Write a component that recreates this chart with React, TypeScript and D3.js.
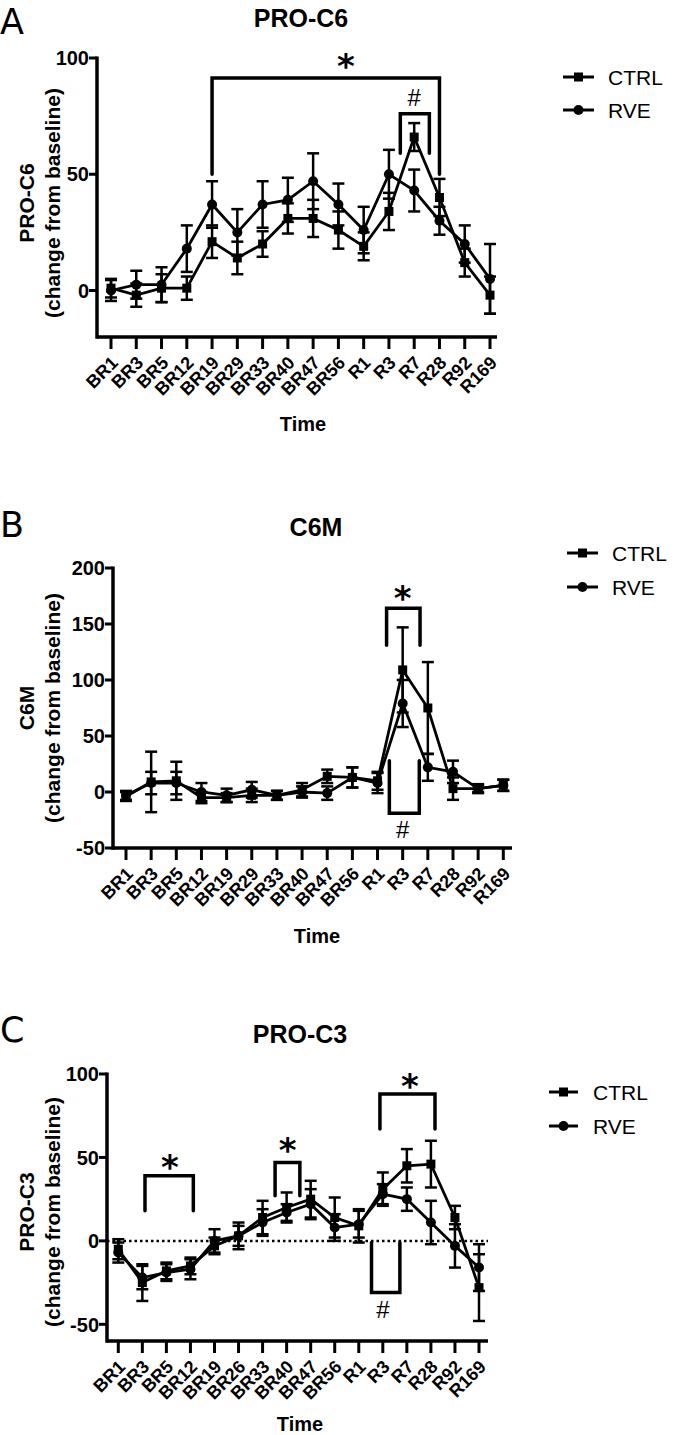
import React from 'react';
import * as d3 from 'd3';

// ---------- DATA ----------
const catsA = ['BR1', 'BR3', 'BR5', 'BR12', 'BR19', 'BR29', 'BR33', 'BR40', 'BR47', 'BR56', 'R1', 'R3', 'R7', 'R28', 'R92', 'R169'];
const ctrlA = [1, -2, 1, 1, 21, 14, 20, 31, 31, 26, 19, 34, 66, 40, 12, -2];
const ctrlAErr = [4, 5, 6, 5, 7, 7, 5.5, 6.5, 8, 8, 6, 8, 6, 8, 6, 8];
const rveA = [0, 2.5, 2.5, 18, 37, 25, 37, 39, 47, 37, 26, 50, 43, 30, 20, 5];
const rveAErr = [4.5, 6, 7.5, 10, 10, 10, 10, 9.5, 12, 9, 10, 10.5, 9, 6, 8, 15];
const ticksA = [0, 50, 100];

const catsB = ['BR1', 'BR3', 'BR5', 'BR12', 'BR19', 'BR29', 'BR33', 'BR40', 'BR47', 'BR56', 'R1', 'R3', 'R7', 'R28', 'R92', 'R169'];
const ctrlB = [-4, 9, 10, -5, -5, -3, -3, 2, 14, 13, 10, 109, 75, 3, 3, 6];
const ctrlBErr = [4, 27, 17, 5, 4, 6, 4, 6, 6, 9, 8, 38, 41, 10, 3, 5];
const rveB = [-3, 8, 8, 0, -3, 2, -3, 0, -1, 13, 8, 79, 22, 18, 3, 6];
const rveBErr = [4, 10, 10, 8, 6, 7, 4, 5, 6, 9, 9, 21, 12, 10, 4, 5];
const ticksB = [-50, 0, 50, 100, 150, 200];

const catsC = ['BR1', 'BR3', 'BR5', 'BR12', 'BR19', 'BR26', 'BR33', 'BR40', 'BR47', 'BR56', 'R1', 'R3', 'R7', 'R28', 'R92', 'R169'];
const ctrlC = [-5, -25, -18, -15, -3, 3, 14, 20, 25, 14, 9, 31, 45, 46, 14, -28];
const ctrlCErr = [6, 11, 5, 5, 5, 8, 10, 9, 11, 12, 10, 10, 10, 14, 7, 20];
const rveC = [-7, -22, -19, -17, 0, 3, 11, 17, 22, 8, 10, 28, 25, 11, -3, -16];
const rveCErr = [6, 7, 5, 6, 7, 6, 8, 5, 9, 8, 8, 6, 7, 13, 13, 14];
const ticksC = [-50, 0, 50, 100];

const seriesNames = ['CTRL', 'RVE'];

// significance brackets: fractional category index from/to, bar value, leg end value
const bracketsA = [
  { i1: 4, i2: 13, bar: 91.4, leg: 50 },
  { i1: 11.45, i2: 12.6, bar: 76, leg: 59 },
];
const marksA = [
  { t: '*', i: 9.3, v: 98.9 },
  { t: '#', i: 12, v: 82.8 },
];
const bracketsB = [
  { i1: 10.36, i2: 11.69, bar: 164, leg: 131 },
  { i1: 10.47, i2: 11.66, bar: -19, leg: 28 },
];
const marksB = [
  { t: '*', i: 11, v: 177.7 },
  { t: '#', i: 11.0, v: -34 },
];
const bracketsC = [
  { i1: 1.11, i2: 3.12, bar: 39, leg: 18 },
  { i1: 6.52, i2: 7.55, bar: 47, leg: 27 },
  { i1: 10.88, i2: 13.17, bar: 88, leg: 67 },
  { i1: 10.53, i2: 11.71, bar: -31, leg: -1 },
];
const marksC = [
  { t: '*', i: 2.15, v: 47.6 },
  { t: '*', i: 7.04, v: 57.6 },
  { t: '*', i: 12.13, v: 96.4 },
  { t: '#', i: 11.0, v: -41.3 },
];

const FONT = "'Liberation Sans', Arial, Helvetica, sans-serif";

type PanelProps = {
  cats: string[];
  ctrl: number[]; ctrlErr: number[];
  rve: number[]; rveErr: number[];
  yDomain: [number, number]; yTicks: number[];
  xRange: [number, number]; yRange: [number, number];
  axisX: number; xAxisEnd: number; zeroLine?: boolean;
  brackets: { i1: number; i2: number; bar: number; leg: number }[];
  marks: { t: string; i: number; v: number }[];
  letter: string; letterY: number;
  title: string; titleX: number; titleY: number;
  yLabel: string; yLabelY: number;
  timeX: number; timeY: number;
  legend: { x1: number; x2: number; y1: number; y2: number; tx: number };
};

function Square({ x, y, s = 9 }: { x: number; y: number; s?: number }) {
  return <rect x={x - s / 2} y={y - s / 2} width={s} height={s} fill="#000" />;
}
function Dot({ x, y, r = 5 }: { x: number; y: number; r?: number }) {
  return <circle cx={x} cy={y} r={r} fill="#000" />;
}

function Panel(p: PanelProps) {
  const x = d3.scalePoint<string>().domain(p.cats).range(p.xRange);
  const y = d3.scaleLinear().domain(p.yDomain).range(p.yRange);
  const step = x.step();
  const xi = (i: number) => (x(p.cats[0]) as number) + i * step;
  const line = d3.line<number>().x((_, i) => x(p.cats[i]) as number).y((d) => y(d));
  const yBottom = p.yRange[0];
  const yTop = p.yRange[1];
  const capW = 6;

  const errBars = (vals: number[], errs: number[], key: string) =>
    vals.map((v, i) => {
      const cx = x(p.cats[i]) as number;
      const y1 = y(v + errs[i]);
      const y2 = y(v - errs[i]);
      return (
        <g key={key + i} stroke="#000" strokeWidth={2.5}>
          <line x1={cx} x2={cx} y1={y1} y2={y2} />
          <line x1={cx - capW} x2={cx + capW} y1={y1} y2={y1} />
          <line x1={cx - capW} x2={cx + capW} y1={y2} y2={y2} />
        </g>
      );
    });

  return (
    <g fontFamily={FONT}>
      {/* panel letter */}
      <text x={0} y={p.letterY} fontSize={35} fontFamily="'DejaVu Sans', 'Open Sans', sans-serif" fill="#000">{p.letter}</text>
      {/* title */}
      <text x={p.titleX} y={p.titleY} fontSize={25} fontWeight="bold" textAnchor="middle">{p.title}</text>
      {/* y labels */}
      <text transform={`translate(27,${p.yLabelY}) rotate(-90)`} fontSize={21} fontWeight="bold" textAnchor="middle" dy="0.35em">{p.yLabel}</text>
      <text transform={`translate(53,${p.yLabelY}) rotate(-90)`} fontSize={21} fontWeight="bold" textAnchor="middle" dy="0.35em">(change from baseline)</text>

      {/* zero line */}
      {p.zeroLine && (
        <line x1={p.axisX} x2={p.xAxisEnd} y1={y(0)} y2={y(0)} stroke="#000" strokeWidth={2.5} strokeDasharray="2.5,3" />
      )}

      {/* axes */}
      <line x1={p.axisX} x2={p.axisX} y1={yTop - 1.5} y2={yBottom + 1.75} stroke="#000" strokeWidth={3.5} />
      <line x1={p.axisX} x2={p.xAxisEnd} y1={yBottom} y2={yBottom} stroke="#000" strokeWidth={3.5} />
      {p.yTicks.map((t) => (
        <g key={'yt' + t}>
          <line x1={p.axisX - 8} x2={p.axisX} y1={y(t)} y2={y(t)} stroke="#000" strokeWidth={3} />
          <text x={p.axisX - 8} y={y(t)} dy="0.36em" textAnchor="end" fontSize={20} fontWeight="bold">{t}</text>
        </g>
      ))}
      {p.cats.map((c) => {
        const cx = x(c) as number;
        return (
          <g key={'xt' + c}>
            <line x1={cx} x2={cx} y1={yBottom} y2={yBottom + 12} stroke="#000" strokeWidth={3} />
            <text transform={`translate(${cx + 8},${yBottom + 27}) rotate(-45)`} textAnchor="end" fontSize={18} fontWeight="bold">{c}</text>
          </g>
        );
      })}
      <text x={p.timeX} y={p.timeY} fontSize={20} fontWeight="bold" textAnchor="middle">Time</text>

      {/* series */}
      {errBars(p.rve, p.rveErr, 'er')}
      {errBars(p.ctrl, p.ctrlErr, 'ec')}
      <path d={line(p.rve) || ''} fill="none" stroke="#000" strokeWidth={2.8} />
      <path d={line(p.ctrl) || ''} fill="none" stroke="#000" strokeWidth={2.8} />
      {p.rve.map((v, i) => <Dot key={'d' + i} x={x(p.cats[i]) as number} y={y(v)} />)}
      {p.ctrl.map((v, i) => <Square key={'s' + i} x={x(p.cats[i]) as number} y={y(v)} />)}

      {/* brackets */}
      {p.brackets.map((b, k) => (
        <path key={'b' + k}
          d={`M${xi(b.i1)},${y(b.leg)}L${xi(b.i1)},${y(b.bar)}L${xi(b.i2)},${y(b.bar)}L${xi(b.i2)},${y(b.leg)}`}
          fill="none" stroke="#000" strokeWidth={3.5} strokeLinecap="round" />
      ))}
      {p.marks.map((m, k) =>
        m.t === '*' ? (
          <text key={'m' + k} x={xi(m.i)} y={y(m.v) + 0.515 * 34} fontSize={34} fontWeight="bold"
            fontFamily="'DejaVu Sans', sans-serif" textAnchor="middle">*</text>
        ) : (
          <text key={'m' + k} x={xi(m.i)} y={y(m.v) + 0.35 * 24} fontSize={24} textAnchor="middle">#</text>
        )
      )}

      {/* legend */}
      <g>
        <line x1={p.legend.x1} x2={p.legend.x2} y1={p.legend.y1} y2={p.legend.y1} stroke="#000" strokeWidth={3} />
        <Square x={(p.legend.x1 + p.legend.x2) / 2} y={p.legend.y1} />
        <text x={p.legend.tx} y={p.legend.y1 + 7.5} fontSize={21}>{seriesNames[0]}</text>
        <line x1={p.legend.x1} x2={p.legend.x2} y1={p.legend.y2} y2={p.legend.y2} stroke="#000" strokeWidth={3} />
        <Dot x={(p.legend.x1 + p.legend.x2) / 2} y={p.legend.y2} />
        <text x={p.legend.tx} y={p.legend.y2 + 7.5} fontSize={21}>{seriesNames[1]}</text>
      </g>
    </g>
  );
}

export default function App() {
  return (
    <svg width={683} height={1435} viewBox="0 0 683 1435"
      style={{ position: 'absolute', left: 0, top: 0, background: '#fff' }}>
      <rect width={683} height={1435} fill="#fff" />
      <Panel
        cats={catsA} ctrl={ctrlA} ctrlErr={ctrlAErr} rve={rveA} rveErr={rveAErr}
        yDomain={[-20, 100]} yTicks={ticksA} xRange={[111, 490]} yRange={[337, 58]}
        axisX={97} xAxisEnd={497}
        brackets={bracketsA} marks={marksA}
        letter="A" letterY={34} title="PRO-C6" titleX={301} titleY={27}
        yLabel="PRO-C6" yLabelY={203} timeX={303} timeY={431}
        legend={{ x1: 563, x2: 594, y1: 77, y2: 110, tx: 608 }}
      />
      <Panel
        cats={catsB} ctrl={ctrlB} ctrlErr={ctrlBErr} rve={rveB} rveErr={rveBErr}
        yDomain={[-50, 200]} yTicks={ticksB} xRange={[126, 503.3]} yRange={[848, 568]}
        axisX={113} xAxisEnd={512}
        brackets={bracketsB} marks={marksB}
        letter="B" letterY={537} title="C6M" titleX={316} titleY={536}
        yLabel="C6M" yLabelY={708} timeX={317} timeY={943}
        legend={{ x1: 567, x2: 598, y1: 553, y2: 587, tx: 612 }}
      />
      <Panel
        cats={catsC} ctrl={ctrlC} ctrlErr={ctrlCErr} rve={rveC} rveErr={rveCErr}
        yDomain={[-60, 100]} yTicks={ticksC} xRange={[118.3, 479]} yRange={[1341, 1074]}
        axisX={107} xAxisEnd={488} zeroLine
        brackets={bracketsC} marks={marksC}
        letter="C" letterY={1042} title="PRO-C3" titleX={300} titleY={1043}
        yLabel="PRO-C3" yLabelY={1212} timeX={300} timeY={1431}
        legend={{ x1: 549, x2: 578, y1: 1092, y2: 1126, tx: 593 }}
      />
    </svg>
  );
}
